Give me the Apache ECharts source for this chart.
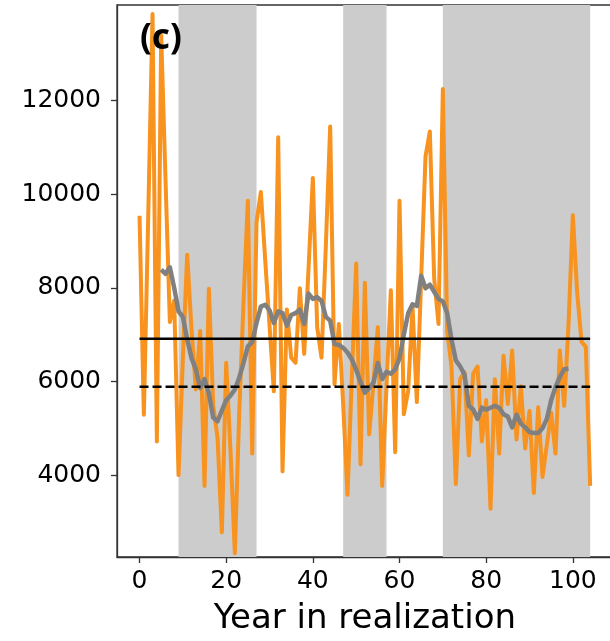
<!DOCTYPE html>
<html>
<head>
<meta charset="utf-8">
<script src="https://cdn.jsdelivr.net/npm/echarts@6/dist/echarts.min.js"></script>
<style>
  html, body { margin: 0; padding: 0; background: #fff; overflow: hidden; }
  #chart { width: 616px; height: 641px; }
</style>
</head>
<body>
<div id="chart"></div>
<script>
// Annual values for each year of the realization (years 0..104)
const annualValues = [
  9540, 5290, 9500, 13850, 4720, 13390, 10300, 7270, 7730, 4000,
  6500, 8710, 7100, 5830, 7080, 3770, 7980, 5500, 4800, 2780,
  6400, 4500, 2330, 5300, 7700, 9860, 4460, 9400, 10050, 8600,
  7200, 5790, 11220, 4080, 7540, 6510, 6400, 7990, 6590, 8400,
  10350, 7160, 6510, 8900, 11450, 5940, 7230, 5500, 3580, 6100,
  8520, 4230, 8110, 4870, 6000, 7160, 3770, 5900, 7950, 4490,
  9860, 5300, 5800, 7610, 5560, 8200, 10810, 11340, 8200, 7230,
  12250, 7080, 6320, 3810, 6050, 6200, 4420, 6170, 6320, 4720,
  5600, 3280, 6050, 4460, 6550, 5520, 6660, 4760, 5900, 4570,
  5370, 3620, 5450, 3960, 4650, 5330, 4460, 6660, 5480, 7200,
  9550, 7900, 6850, 6740, 3770
];

// Smoothed curve, defined from year 5 to year 99
const smoothStartYear = 5;
const smoothValues = [
  8390, 8300, 8440, 8000, 7500, 7380, 6900, 6500, 6260, 5860,
  6050, 5750, 5230, 5150, 5380, 5600, 5700, 5830, 6080, 6400,
  6750, 6840, 7250, 7600, 7640, 7520, 7250, 7500, 7460, 7194,
  7420, 7460, 7536, 7232, 7878, 7764, 7802, 7726, 7380, 7300,
  6800, 6780, 6720, 6620, 6471, 6250, 5990, 5760, 5863, 5977,
  6395, 6053, 6205, 6167, 6260, 6500, 7000, 7460, 7650, 7612,
  8260, 7992, 8068, 7916, 7764, 7710, 7460, 6900, 6450, 6320,
  6150, 5480, 5400, 5200, 5440, 5400, 5440, 5480, 5440, 5300,
  5250, 5020, 5290, 5100, 5020, 4920, 4900, 4900, 5000, 5200,
  5600, 5880, 6100, 6260, 6270
];

// Reference levels drawn across the whole record
const solidLevel = 6912;
const dashedLevel = 5886;
const levelSpan = [0, 104];

// Shaded periods [startYear, endYear]
const shadedPeriods = [[9, 27], [47, 57], [70, 104]];

// Axis ticks
const xTicks = [0, 20, 40, 60, 80, 100];
const yTicks = [4000, 6000, 8000, 10000, 12000];

const annualData = annualValues.map((v, i) => [i, v]);
const smoothData = smoothValues.map((v, i) => [smoothStartYear + i, v]);
const levelLine = (v) => levelSpan.map(x => [x, v]);

const font = 'DejaVu Sans';
const chart = echarts.init(document.getElementById('chart'), null, { renderer: 'canvas' });

chart.setOption({
  animation: false,
  backgroundColor: '#ffffff',
  title: {
    text: '(c)',
    left: 135,
    top: 17,
    z: 10,
    textStyle: { fontFamily: 'Noto Sans', fontWeight: 'bold', fontSize: 35, color: '#000' }
  },
  grid: {
    left: 117,
    top: 5,
    width: 495.7,
    height: 554,
    show: true,
    borderColor: '#333',
    borderWidth: 1.3,
    backgroundColor: 'transparent'
  },
  xAxis: {
    type: 'value',
    min: -5.2,
    max: 109.2,
    name: 'Year in realization',
    nameLocation: 'middle',
    nameGap: 45,
    nameTextStyle: { fontFamily: font, fontSize: 34, color: '#000' },
    axisLine: { show: true, onZero: false, lineStyle: { color: '#333', width: 1.3 } },
    axisTick: { show: true, length: 6, customValues: xTicks, lineStyle: { color: '#333', width: 1.3 } },
    axisLabel: { customValues: xTicks, margin: 12, fontFamily: font, fontSize: 25, color: '#000',
                 formatter: (v) => String(v) },
    splitLine: { show: false }
  },
  yAxis: {
    type: 'value',
    min: 2250,
    max: 14044,
    axisLine: { show: true, onZero: false, lineStyle: { color: '#333', width: 1.3 } },
    axisTick: { show: true, length: 6, customValues: yTicks, lineStyle: { color: '#333', width: 1.3 } },
    axisLabel: { customValues: yTicks, margin: 16, fontFamily: font, fontSize: 25, color: '#000',
                 formatter: (v) => String(v) },
    splitLine: { show: false }
  },
  series: [
    {
      name: 'annual',
      type: 'line',
      data: annualData,
      showSymbol: false,
      z: 2,
      lineStyle: { color: '#f7931e', width: 4, join: 'round' },
      markArea: {
        silent: true,
        itemStyle: { color: '#cccccc', opacity: 1 },
        data: shadedPeriods.map(([a, b]) => [{ xAxis: a }, { xAxis: b }])
      }
    },
    {
      name: 'smoothed',
      type: 'line',
      data: smoothData,
      showSymbol: false,
      z: 3,
      lineStyle: { color: '#808080', width: 4.5, join: 'round' }
    },
    {
      name: 'solid level',
      type: 'line',
      data: levelLine(solidLevel),
      showSymbol: false,
      z: 4,
      lineStyle: { color: '#000', width: 2.6 }
    },
    {
      name: 'dashed level',
      type: 'line',
      data: levelLine(dashedLevel),
      showSymbol: false,
      z: 4,
      lineStyle: { color: '#000', width: 2.6, type: [9, 4] }
    }
  ]
});
</script>
</body>
</html>
